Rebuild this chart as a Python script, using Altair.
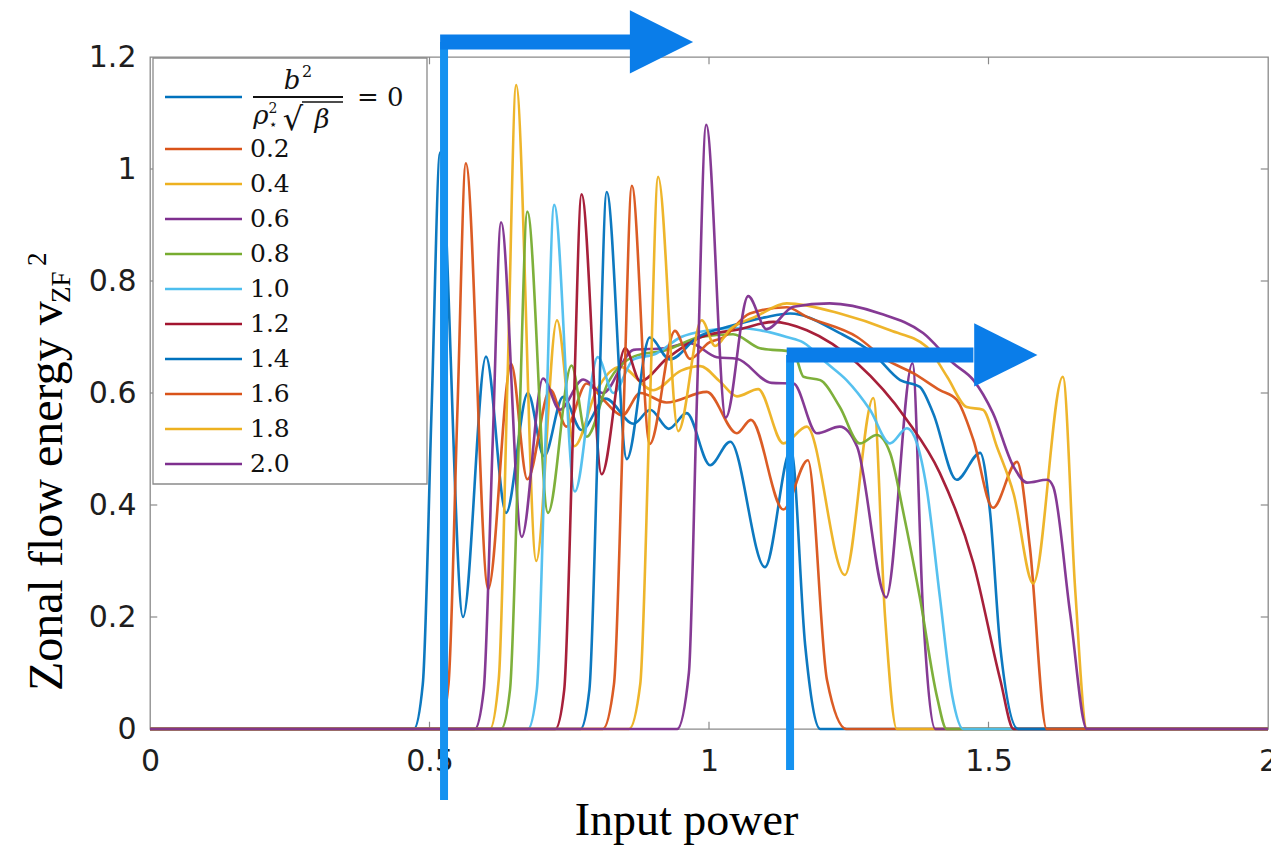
import altair as alt
import pandas as pd

# ---------------- data ----------------
series_labels = ["0", "0.2", "0.4", "0.6", "0.8", "1.0", "1.2", "1.4", "1.6", "1.8", "2.0"]
series_colors = ["#0072BD", "#D95319", "#EDB120", "#7E2F8E", "#77AC30", "#4DBEEE",
                 "#A2142F", "#0072BD", "#D95319", "#EDB120", "#7E2F8E"]

x_s0 = [0, 0.472, 0.488, 0.504, 0.519, 0.560, 0.601, 0.637, 0.676, 0.705, 0.739, 0.772, 0.815, 0.865, 0.895, 0.928, 0.960, 1.002, 1.038, 1.100, 1.147, 1.172, 1.199, 2.0]
y_s0 = [0, 0, 0.08, 0.58, 1.03, 0.20, 0.665, 0.386, 0.600, 0.487, 0.593, 0.534, 0.590, 0.545, 0.570, 0.536, 0.564, 0.471, 0.513, 0.289, 0.500, 0.150, 0, 0]

x_s1 = [0, 0.518, 0.534, 0.550, 0.565, 0.605, 0.646, 0.675, 0.716, 0.745, 0.781, 0.811, 0.845, 0.877, 0.924, 0.996, 1.050, 1.075, 1.133, 1.177, 1.211, 1.246, 2.0]
y_s1 = [0, 0, 0.08, 0.57, 1.01, 0.25, 0.652, 0.446, 0.606, 0.540, 0.617, 0.588, 0.560, 0.600, 0.583, 0.602, 0.528, 0.552, 0.392, 0.480, 0.088, 0, 0]

x_s2 = [0, 0.608, 0.624, 0.640, 0.655, 0.691, 0.728, 0.759, 0.799, 0.841, 0.900, 0.950, 0.984, 1.020, 1.050, 1.088, 1.133, 1.175, 1.243, 1.294, 1.315, 1.336, 2.0]
y_s2 = [0, 0, 0.09, 0.64, 1.15, 0.30, 0.730, 0.505, 0.605, 0.647, 0.605, 0.640, 0.648, 0.620, 0.594, 0.607, 0.510, 0.540, 0.275, 0.591, 0.200, 0, 0]

x_s3 = [0, 0.581, 0.597, 0.613, 0.628, 0.665, 0.703, 0.733, 0.775, 0.810, 0.865, 0.920, 0.966, 1.014, 1.050, 1.112, 1.151, 1.193, 1.234, 1.265, 1.317, 1.364, 1.383, 1.405, 2.0]
y_s3 = [0, 0, 0.07, 0.51, 0.905, 0.343, 0.626, 0.570, 0.624, 0.600, 0.677, 0.680, 0.689, 0.664, 0.661, 0.618, 0.617, 0.528, 0.540, 0.504, 0.235, 0.653, 0.207, 0, 0]

x_s4 = [0, 0.628, 0.644, 0.660, 0.675, 0.712, 0.754, 0.781, 0.820, 0.865, 0.924, 0.984, 1.043, 1.091, 1.151, 1.169, 1.199, 1.234, 1.270, 1.300, 1.324, 1.348, 1.377, 1.408, 1.425, 2.0]
y_s4 = [0, 0, 0.07, 0.52, 0.924, 0.386, 0.649, 0.522, 0.620, 0.665, 0.677, 0.700, 0.705, 0.680, 0.673, 0.629, 0.623, 0.575, 0.510, 0.525, 0.493, 0.385, 0.236, 0.057, 0, 0]

x_s5 = [0, 0.676, 0.692, 0.708, 0.723, 0.760, 0.801, 0.829, 0.865, 0.905, 0.950, 1.000, 1.050, 1.091, 1.139, 1.169, 1.211, 1.246, 1.288, 1.324, 1.354, 1.372, 1.389, 1.413, 1.435, 1.455, 2.0]
y_s5 = [0, 0, 0.07, 0.53, 0.936, 0.424, 0.664, 0.600, 0.660, 0.670, 0.700, 0.712, 0.716, 0.712, 0.700, 0.690, 0.653, 0.623, 0.570, 0.510, 0.537, 0.510, 0.432, 0.236, 0.060, 0, 0]

x_s6 = [0, 0.725, 0.741, 0.757, 0.772, 0.808, 0.850, 0.877, 0.924, 0.984, 1.055, 1.115, 1.175, 1.265, 1.354, 1.413, 1.473, 1.521, 1.545, 2.0]
y_s6 = [0, 0, 0.07, 0.54, 0.955, 0.455, 0.680, 0.621, 0.661, 0.699, 0.714, 0.727, 0.712, 0.653, 0.552, 0.457, 0.296, 0.088, 0, 0]

x_s7 = [0, 0.770, 0.786, 0.802, 0.817, 0.853, 0.894, 0.930, 0.980, 1.040, 1.100, 1.145, 1.234, 1.293, 1.342, 1.377, 1.401, 1.443, 1.485, 1.503, 1.521, 1.553, 2.0]
y_s7 = [0, 0, 0.07, 0.54, 0.959, 0.482, 0.699, 0.660, 0.700, 0.720, 0.735, 0.742, 0.707, 0.671, 0.623, 0.611, 0.564, 0.445, 0.493, 0.385, 0.147, 0, 0]

x_s8 = [0, 0.810, 0.830, 0.847, 0.862, 0.894, 0.939, 0.966, 1.000, 1.025, 1.073, 1.139, 1.175, 1.265, 1.318, 1.366, 1.413, 1.443, 1.473, 1.508, 1.551, 1.574, 1.604, 2.0]
y_s8 = [0, 0, 0.08, 0.56, 0.970, 0.509, 0.711, 0.661, 0.690, 0.699, 0.742, 0.753, 0.736, 0.700, 0.659, 0.635, 0.605, 0.588, 0.516, 0.395, 0.477, 0.325, 0, 0]

x_s9 = [0, 0.857, 0.877, 0.894, 0.909, 0.945, 0.987, 1.011, 1.038, 1.085, 1.139, 1.234, 1.324, 1.390, 1.426, 1.461, 1.490, 1.515, 1.545, 1.580, 1.633, 1.655, 1.676, 2.0]
y_s9 = [0, 0, 0.08, 0.57, 0.986, 0.532, 0.730, 0.684, 0.714, 0.737, 0.760, 0.742, 0.712, 0.682, 0.629, 0.575, 0.570, 0.504, 0.420, 0.260, 0.629, 0.250, 0, 0]

x_s10 = [0, 0.943, 0.964, 0.978, 0.995, 1.030, 1.070, 1.103, 1.151, 1.216, 1.306, 1.383, 1.437, 1.473, 1.508, 1.545, 1.569, 1.605, 1.616, 1.646, 1.676, 2.0]
y_s10 = [0, 0, 0.10, 0.575, 1.079, 0.556, 0.773, 0.714, 0.754, 0.760, 0.742, 0.707, 0.653, 0.623, 0.564, 0.468, 0.440, 0.445, 0.432, 0.207, 0, 0]

all_x = [x_s0, x_s1, x_s2, x_s3, x_s4, x_s5, x_s6, x_s7, x_s8, x_s9, x_s10]
all_y = [y_s0, y_s1, y_s2, y_s3, y_s4, y_s5, y_s6, y_s7, y_s8, y_s9, y_s10]

x_ticks = [0, 0.5, 1, 1.5, 2]
y_ticks = [0, 0.2, 0.4, 0.6, 0.8, 1, 1.2]
inner_x_ticks = [0.5, 1, 1.5]
inner_y_ticks = [0.2, 0.4, 0.6, 0.8, 1.0]

# annotation arrows (data coordinates)
arrow1_vert = {"x": 0.526, "y": -0.127, "y2": 1.227}
arrow1_bar = {"x": 0.519, "x2": 0.860, "y": 1.227}
arrow1_head = {"x": 0.915, "y": 1.227}
arrow2_vert = {"x": 1.145, "y": -0.073, "y2": 0.668}
arrow2_bar = {"x": 1.139, "x2": 1.473, "y": 0.668}
arrow2_head = {"x": 1.531, "y": 0.668}

# ---------------- chart ----------------
W, H = 1118, 672
xscale = alt.Scale(domain=[0, 2], nice=False, zero=False)
yscale = alt.Scale(domain=[0, 1.2], nice=False, zero=False)
LABEL_FONT = "DejaVu Sans"
SERIF = "Liberation Serif"

xaxis = alt.Axis(values=x_ticks, format="~g", title="Input power", titleFont=SERIF,
                 titleFontSize=46, titleFontWeight="normal", titleColor="black",
                 titleX=536, titleY=105, titleBaseline="alphabetic", titleAlign="center",
                 labelFont=LABEL_FONT, labelFontSize=30, labelColor="#1e1e1e",
                 labelPadding=17, domain=False, ticks=False, tickSize=0, grid=False,
                 labelFlush=False, labelOverlap=False)
yaxis = alt.Axis(values=y_ticks, format="~g", title=None,
                 labelFont=LABEL_FONT, labelFontSize=30, labelColor="#1e1e1e",
                 labelPadding=14, domain=False, ticks=False, tickSize=0, grid=False,
                 labelFlush=False, labelOverlap=False)

def X(f):
    return alt.X(f, type="quantitative", scale=xscale, axis=xaxis)

def Y(f):
    return alt.Y(f, type="quantitative", scale=yscale, axis=yaxis)

one = pd.DataFrame({"k": [0]})
FRAME = "#8a8a8a"

layers = []
# inward ticks
tdf_b = pd.DataFrame({"x": inner_x_ticks, "y": [0.0] * 3, "y2": [0.013] * 3})
tdf_t = pd.DataFrame({"x": inner_x_ticks, "y": [1.2] * 3, "y2": [1.187] * 3})
tdf_l = pd.DataFrame({"y": inner_y_ticks, "x": [0.0] * 5, "x2": [0.013] * 5})
tdf_r = pd.DataFrame({"y": inner_y_ticks, "x": [2.0] * 5, "x2": [1.987] * 5})
for d in (tdf_b, tdf_t):
    layers.append(alt.Chart(d).mark_rule(color=FRAME, strokeWidth=1.2).encode(
        x=X("x"), y=Y("y"), y2="y2"))
for d in (tdf_l, tdf_r):
    layers.append(alt.Chart(d).mark_rule(color=FRAME, strokeWidth=1.2).encode(
        x=X("x"), x2="x2", y=Y("y")))

# curves
for xs, ys, col in zip(all_x, all_y, series_colors):
    d = pd.DataFrame({"x": xs, "y": ys})
    layers.append(alt.Chart(d).mark_line(interpolate="monotone", strokeWidth=2.6,
                                         color=col, strokeJoin="round", opacity=0.95).encode(
        x=X("x"), y=Y("y")))

# arrows
VCOL = "#1592F0"
HCOL = "#0A7DE9"
head_path = "M-1,-1L1,0L-1,1Z"
for v, b, h, size in ((arrow1_vert, arrow1_bar, arrow1_head, 4000),
                      (arrow2_vert, arrow2_bar, arrow2_head, 4000)):
    layers.append(alt.Chart(pd.DataFrame([v])).mark_rule(color=VCOL, strokeWidth=8, strokeCap="butt").encode(
        x=X("x"), y=Y("y"), y2="y2"))
    layers.append(alt.Chart(pd.DataFrame([b])).mark_rule(color=HCOL, strokeWidth=15, strokeCap="butt").encode(
        x=X("x"), x2="x2", y=Y("y")))
    layers.append(alt.Chart(pd.DataFrame([h])).mark_point(shape=head_path, size=size, filled=True,
                                                          color=HCOL, opacity=1, strokeWidth=0).encode(
        x=X("x"), y=Y("y")))

# y axis title (manual, with sub/superscript)
layers.append(alt.Chart(one).mark_text(text="Zonal flow energy v", font=SERIF, fontSize=48, angle=270,
                                       align="left", baseline="alphabetic", color="black").encode(
    x=alt.value(-88), y=alt.value(634)))
layers.append(alt.Chart(one).mark_text(text="ZF", font=SERIF, fontSize=27, angle=270,
                                       align="left", baseline="alphabetic", color="black").encode(
    x=alt.value(-80), y=alt.value(246)))
layers.append(alt.Chart(one).mark_text(text="2", font=SERIF, fontSize=27, angle=270,
                                       align="left", baseline="alphabetic", color="black").encode(
    x=alt.value(-104), y=alt.value(209)))

main = alt.layer(*layers)

# ---------------- legend (manual) ----------------
leg_labels = series_labels[1:]
leg_colors = series_colors[1:]
leg_df = pd.DataFrame({"label": leg_labels})
leg_y = alt.Y("label:N", scale=alt.Scale(type="point", domain=leg_labels, range=[92, 407], padding=0),
              axis=None)
leg_layers = [
    alt.Chart(one).mark_rect(fill="white", stroke=FRAME, strokeWidth=1.3).encode(
        x=alt.value(3), x2=alt.value(277), y=alt.value(1), y2=alt.value(427)),
    alt.Chart(leg_df).mark_rule(strokeWidth=2.4).encode(
        x=alt.value(15), x2=alt.value(92), y=leg_y,
        color=alt.Color("label:N", scale=alt.Scale(domain=leg_labels, range=leg_colors), legend=None)),
    alt.Chart(leg_df).mark_text(align="left", baseline="middle", font="DejaVu Serif", fontSize=25,
                                color="#111111").encode(
        x=alt.value(100), y=leg_y, text="label:N"),
    # first entry: fraction b^2 / (rho_*^2 sqrt(beta)) = 0
    alt.Chart(one).mark_rule(strokeWidth=2.4, color=series_colors[0]).encode(
        x=alt.value(15), x2=alt.value(92), y=alt.value(40)),
    alt.Chart(one).mark_text(text="b", font="DejaVu Serif", fontStyle="italic", fontSize=26,
                             align="center", baseline="alphabetic", color="#111111").encode(
        x=alt.value(142), y=alt.value(32)),
    alt.Chart(one).mark_text(text="2", font="DejaVu Serif", fontSize=16,
                             align="center", baseline="alphabetic", color="#111111").encode(
        x=alt.value(157), y=alt.value(20)),
    alt.Chart(one).mark_rule(strokeWidth=2, color="#111111").encode(
        x=alt.value(103), x2=alt.value(193), y=alt.value(40)),
    alt.Chart(one).mark_text(text="ρ", font="DejaVu Serif", fontStyle="italic", fontSize=26,
                             align="center", baseline="alphabetic", color="#111111").encode(
        x=alt.value(111), y=alt.value(67)),
    alt.Chart(one).mark_text(text="2", font="DejaVu Serif", fontSize=14,
                             align="center", baseline="alphabetic", color="#111111").encode(
        x=alt.value(123), y=alt.value(56)),
    alt.Chart(one).mark_text(text="⋆", font="DejaVu Sans", fontSize=14,
                             align="center", baseline="alphabetic", color="#111111").encode(
        x=alt.value(123), y=alt.value(72)),
    alt.Chart(one).mark_text(text="√", font="DejaVu Serif", fontSize=32,
                             align="center", baseline="alphabetic", color="#111111").encode(
        x=alt.value(143), y=alt.value(73)),
    alt.Chart(one).mark_rule(strokeWidth=1.6, color="#111111").encode(
        x=alt.value(152), x2=alt.value(193), y=alt.value(45)),
    alt.Chart(one).mark_text(text="β", font="DejaVu Serif", fontStyle="italic", fontSize=26,
                             align="center", baseline="alphabetic", color="#111111").encode(
        x=alt.value(172), y=alt.value(71)),
    alt.Chart(one).mark_text(text="= 0", font="DejaVu Serif", fontSize=26,
                             align="left", baseline="middle", color="#111111").encode(
        x=alt.value(207), y=alt.value(41)),
]
legend = alt.layer(*leg_layers)

chart = alt.layer(main, legend).resolve_scale(y="independent", color="independent").properties(
    width=W, height=H,
    padding={"left": 150, "top": 57, "right": 3, "bottom": 117},
    autosize=alt.AutoSizeParams(type="none"),
    background="white",
).configure_view(stroke=FRAME, strokeWidth=1.3)

chart.save("out.html", embed_options={"renderer": "svg", "actions": False})
